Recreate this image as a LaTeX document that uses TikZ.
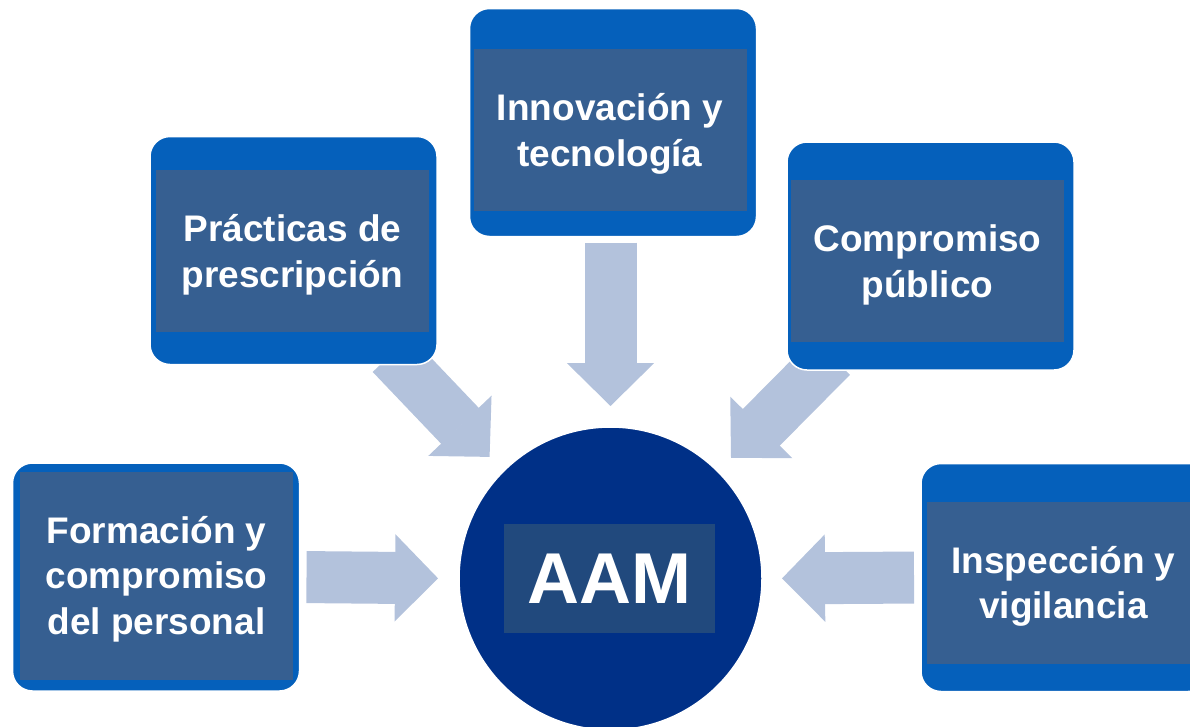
\documentclass[tikz,border=0pt]{standalone}
\usepackage{fontspec}
\setmainfont{Liberation Sans}
\usetikzlibrary{arrows.meta,backgrounds}
\definecolor{boxblue}{RGB}{5,96,187}
\definecolor{innerblue}{RGB}{54,95,145}
\definecolor{navy}{RGB}{0,48,135}
\definecolor{aamblue}{RGB}{33,73,125}
\definecolor{arrowblue}{RGB}{179,194,220}
\tikzset{
  outerbox/.style={draw=white, line width=1.5pt, fill=boxblue, rounded corners=20pt, minimum width=287pt, minimum height=228pt, outer sep=0pt},
  innerbox/.style={fill=innerblue, minimum width=273pt, minimum height=162pt, inner sep=0pt},
  boxtext/.style={text=white, align=center, inner sep=0pt, font=\fontsize{37}{45.5}\selectfont\bfseries},
  flow/.style={color=arrowblue, line width=52pt, -{Triangle[width=87pt,length=43pt,line width=2pt]}}
}
\begin{document}
\begin{tikzpicture}[x=1pt,y=-1pt]
\useasboundingbox (0,0) rectangle (1190,726);
\clip (0,0) rectangle (1190,726);

\node[outerbox] (pracbox) at (293.5,250.5) {};
\node[innerbox] (prac) at (292.5,251) {};
\node[boxtext] (practext) at ([yshift=-4pt]prac.center) {Prácticas de\\prescripción};

\node[outerbox] (innovbox) at (613,122.5) {};
\node[innerbox] (innov) at (610,130) {};
\node[boxtext] (innovtext) at ([yshift=-4pt]innov.center) {Innovación y\\tecnología};

\node[outerbox] (compbox) at (930.5,256) {};
\node[innerbox] (comp) at (927.5,261) {};
\node[boxtext] (comptext) at ([yshift=-4pt]comp.center) {Compromiso\\público};

\node[outerbox] (formbox) at (156,577) {};
\node[innerbox, minimum height=208pt] (form) at (156.5,576) {};
\node[boxtext] (formtext) at ([yshift=-3pt]form.center) {Formación y\\compromiso\\del personal};

\node[outerbox] (inspbox) at (1064.5,577.5) {};
\node[innerbox] (insp) at (1063.5,582.5) {};
\node[boxtext] (insptext) at ([yshift=-4pt]insp.center) {Inspección y\\vigilancia};

\node[circle, fill=navy, draw=white, line width=1.5pt, minimum size=303pt, inner sep=0pt, outer sep=0pt] (aam) at (610.5,578.5) {};
\node[fill=aamblue, minimum width=211pt, minimum height=109pt, text=white, font=\fontsize{72}{80}\selectfont\bfseries] (aamlabel) at (609.5,578.5) {AAM};

\coordinate (pracout) at ([shift={(-45.5,-10.5)}]pracbox.south east);
\coordinate (compout) at ([shift={(44.5,-13.5)}]compbox.south west);

\begin{pgfonlayer}{background}
\draw[flow, shorten <=6pt, shorten >=21pt] (aam.north |- innovbox.south) -- (aam.north);
\draw[flow, shorten >=20pt] (pracout) -- (aam.north west);
\draw[flow, shorten >=19pt] (compout) -- (aam.north east);
\draw[flow, shorten <=7pt, shorten >=21pt] (formbox.east) -- (aam.west);
\draw[flow, shorten <=7pt, shorten >=20pt] (inspbox.west) -- (aam.east);
\end{pgfonlayer}
\end{tikzpicture}
\end{document}
